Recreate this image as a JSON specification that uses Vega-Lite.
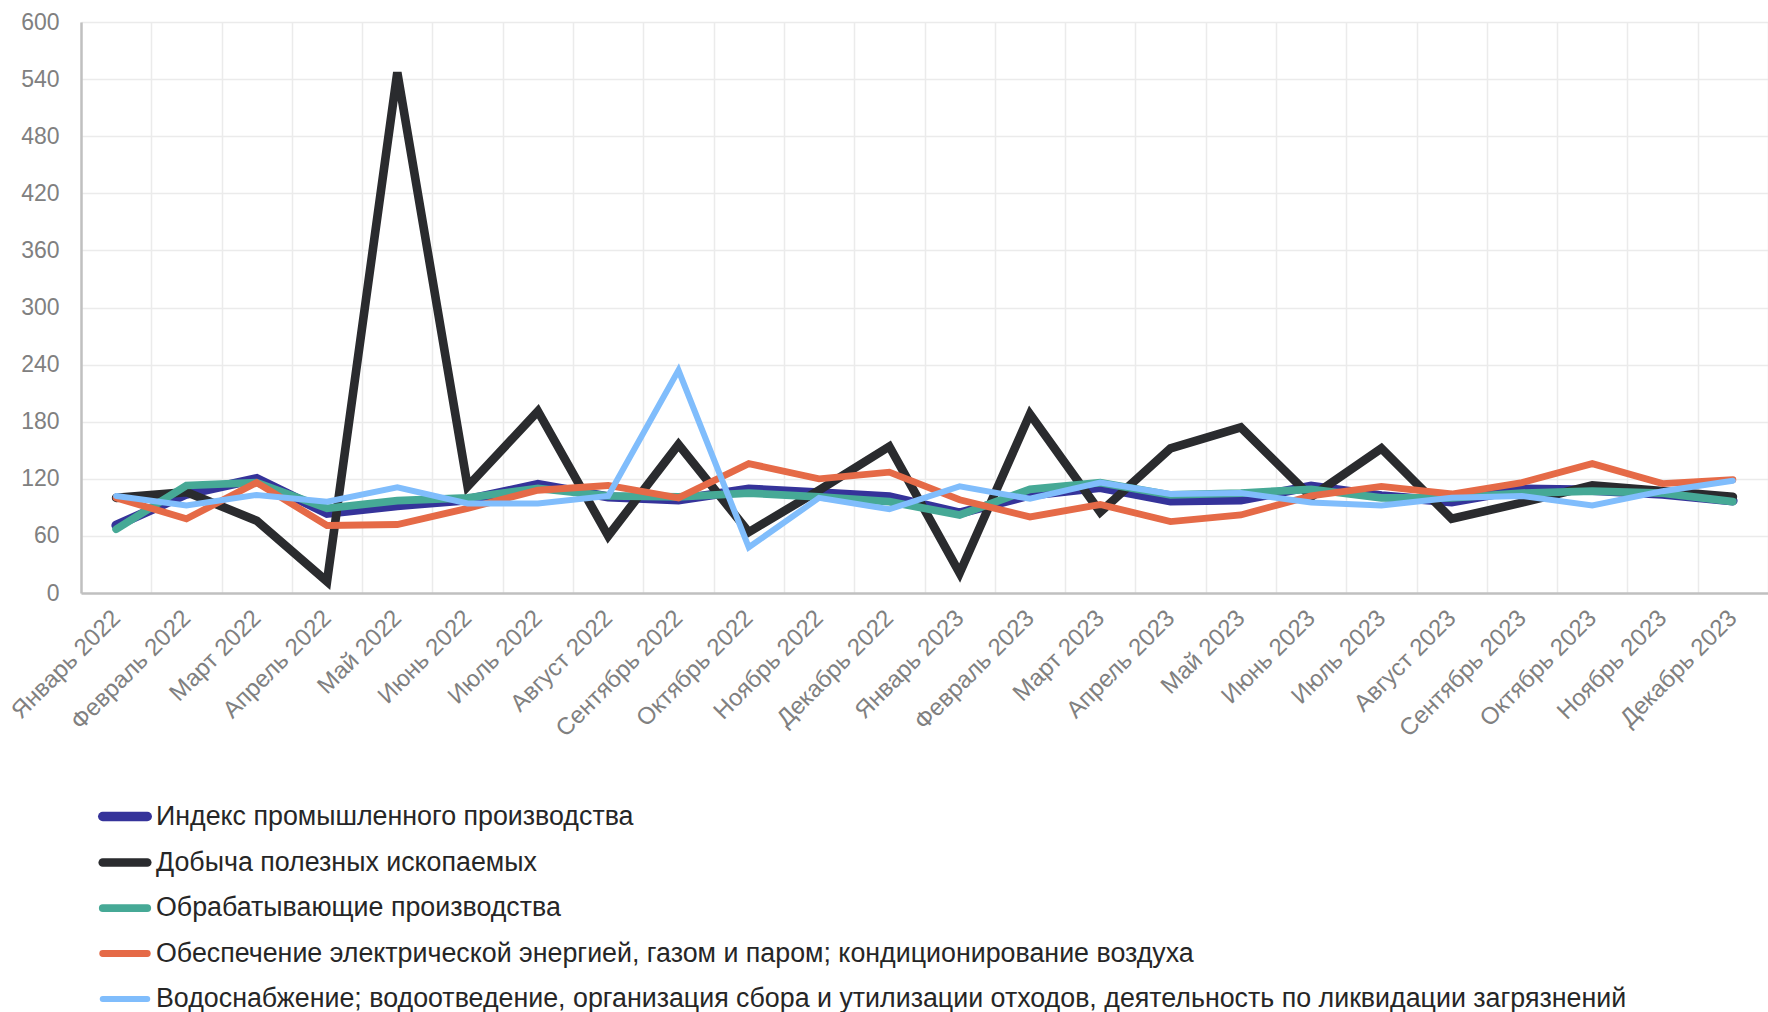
{
  "$schema": "https://vega.github.io/schema/vega-lite/v6.json",
  "width": 1687,
  "height": 571,
  "autosize": {"type": "none"},
  "padding": {"left": 81, "top": 22, "right": 0, "bottom": 419},
  "background": "white",
  "config": {"view": {"stroke": null}, "font": "Liberation Sans"},
  "datasets": {
    "rows": [
      {"m": "Январь 2022", "s": "Индекс промышленного производства", "v": 71},
      {"m": "Февраль 2022", "s": "Индекс промышленного производства", "v": 104},
      {"m": "Март 2022", "s": "Индекс промышленного производства", "v": 120},
      {"m": "Апрель 2022", "s": "Индекс промышленного производства", "v": 84},
      {"m": "Май 2022", "s": "Индекс промышленного производства", "v": 92},
      {"m": "Июнь 2022", "s": "Индекс промышленного производства", "v": 98},
      {"m": "Июль 2022", "s": "Индекс промышленного производства", "v": 114},
      {"m": "Август 2022", "s": "Индекс промышленного производства", "v": 101},
      {"m": "Сентябрь 2022", "s": "Индекс промышленного производства", "v": 98},
      {"m": "Октябрь 2022", "s": "Индекс промышленного производства", "v": 109},
      {"m": "Ноябрь 2022", "s": "Индекс промышленного производства", "v": 105},
      {"m": "Декабрь 2022", "s": "Индекс промышленного производства", "v": 101},
      {"m": "Январь 2023", "s": "Индекс промышленного производства", "v": 84},
      {"m": "Февраль 2023", "s": "Индекс промышленного производства", "v": 103},
      {"m": "Март 2023", "s": "Индекс промышленного производства", "v": 111},
      {"m": "Апрель 2023", "s": "Индекс промышленного производства", "v": 97},
      {"m": "Май 2023", "s": "Индекс промышленного производства", "v": 98},
      {"m": "Июнь 2023", "s": "Индекс промышленного производства", "v": 112},
      {"m": "Июль 2023", "s": "Индекс промышленного производства", "v": 102},
      {"m": "Август 2023", "s": "Индекс промышленного производства", "v": 96},
      {"m": "Сентябрь 2023", "s": "Индекс промышленного производства", "v": 109},
      {"m": "Октябрь 2023", "s": "Индекс промышленного производства", "v": 108},
      {"m": "Ноябрь 2023", "s": "Индекс промышленного производства", "v": 104},
      {"m": "Декабрь 2023", "s": "Индекс промышленного производства", "v": 97},

      {"m": "Январь 2022", "s": "Добыча полезных ископаемых", "v": 100},
      {"m": "Февраль 2022", "s": "Добыча полезных ископаемых", "v": 106},
      {"m": "Март 2022", "s": "Добыча полезных ископаемых", "v": 76},
      {"m": "Апрель 2022", "s": "Добыча полезных ископаемых", "v": 12},
      {"m": "Май 2022", "s": "Добыча полезных ископаемых", "v": 547},
      {"m": "Июнь 2022", "s": "Добыча полезных ископаемых", "v": 112},
      {"m": "Июль 2022", "s": "Добыча полезных ископаемых", "v": 191},
      {"m": "Август 2022", "s": "Добыча полезных ископаемых", "v": 60},
      {"m": "Сентябрь 2022", "s": "Добыча полезных ископаемых", "v": 156},
      {"m": "Октябрь 2022", "s": "Добыча полезных ископаемых", "v": 64},
      {"m": "Ноябрь 2022", "s": "Добыча полезных ископаемых", "v": 108},
      {"m": "Декабрь 2022", "s": "Добыча полезных ископаемых", "v": 154},
      {"m": "Январь 2023", "s": "Добыча полезных ископаемых", "v": 21},
      {"m": "Февраль 2023", "s": "Добыча полезных ископаемых", "v": 188},
      {"m": "Март 2023", "s": "Добыча полезных ископаемых", "v": 85},
      {"m": "Апрель 2023", "s": "Добыча полезных ископаемых", "v": 152},
      {"m": "Май 2023", "s": "Добыча полезных ископаемых", "v": 174},
      {"m": "Июнь 2023", "s": "Добыча полезных ископаемых", "v": 101},
      {"m": "Июль 2023", "s": "Добыча полезных ископаемых", "v": 152},
      {"m": "Август 2023", "s": "Добыча полезных ископаемых", "v": 78},
      {"m": "Сентябрь 2023", "s": "Добыча полезных ископаемых", "v": 95},
      {"m": "Октябрь 2023", "s": "Добыча полезных ископаемых", "v": 113},
      {"m": "Ноябрь 2023", "s": "Добыча полезных ископаемых", "v": 107},
      {"m": "Декабрь 2023", "s": "Добыча полезных ископаемых", "v": 101},

      {"m": "Январь 2022", "s": "Обрабатывающие производства", "v": 67},
      {"m": "Февраль 2022", "s": "Обрабатывающие производства", "v": 113},
      {"m": "Март 2022", "s": "Обрабатывающие производства", "v": 116},
      {"m": "Апрель 2022", "s": "Обрабатывающие производства", "v": 89},
      {"m": "Май 2022", "s": "Обрабатывающие производства", "v": 97},
      {"m": "Июнь 2022", "s": "Обрабатывающие производства", "v": 100},
      {"m": "Июль 2022", "s": "Обрабатывающие производства", "v": 110},
      {"m": "Август 2022", "s": "Обрабатывающие производства", "v": 102},
      {"m": "Сентябрь 2022", "s": "Обрабатывающие производства", "v": 101},
      {"m": "Октябрь 2022", "s": "Обрабатывающие производства", "v": 105},
      {"m": "Ноябрь 2022", "s": "Обрабатывающие производства", "v": 101},
      {"m": "Декабрь 2022", "s": "Обрабатывающие производства", "v": 96},
      {"m": "Январь 2023", "s": "Обрабатывающие производства", "v": 82},
      {"m": "Февраль 2023", "s": "Обрабатывающие производства", "v": 109},
      {"m": "Март 2023", "s": "Обрабатывающие производства", "v": 116},
      {"m": "Апрель 2023", "s": "Обрабатывающие производства", "v": 103},
      {"m": "Май 2023", "s": "Обрабатывающие производства", "v": 105},
      {"m": "Июнь 2023", "s": "Обрабатывающие производства", "v": 109},
      {"m": "Июль 2023", "s": "Обрабатывающие производства", "v": 100},
      {"m": "Август 2023", "s": "Обрабатывающие производства", "v": 100},
      {"m": "Сентябрь 2023", "s": "Обрабатывающие производства", "v": 105},
      {"m": "Октябрь 2023", "s": "Обрабатывающие производства", "v": 107},
      {"m": "Ноябрь 2023", "s": "Обрабатывающие производства", "v": 105},
      {"m": "Декабрь 2023", "s": "Обрабатывающие производства", "v": 96},

      {"m": "Январь 2022", "s": "Обеспечение электрической энергией, газом и паром; кондиционирование воздуха", "v": 100},
      {"m": "Февраль 2022", "s": "Обеспечение электрической энергией, газом и паром; кондиционирование воздуха", "v": 78},
      {"m": "Март 2022", "s": "Обеспечение электрической энергией, газом и паром; кондиционирование воздуха", "v": 116},
      {"m": "Апрель 2022", "s": "Обеспечение электрической энергией, газом и паром; кондиционирование воздуха", "v": 71},
      {"m": "Май 2022", "s": "Обеспечение электрической энергией, газом и паром; кондиционирование воздуха", "v": 72},
      {"m": "Июнь 2022", "s": "Обеспечение электрической энергией, газом и паром; кондиционирование воздуха", "v": 89},
      {"m": "Июль 2022", "s": "Обеспечение электрической энергией, газом и паром; кондиционирование воздуха", "v": 108},
      {"m": "Август 2022", "s": "Обеспечение электрической энергией, газом и паром; кондиционирование воздуха", "v": 113},
      {"m": "Сентябрь 2022", "s": "Обеспечение электрической энергией, газом и паром; кондиционирование воздуха", "v": 100},
      {"m": "Октябрь 2022", "s": "Обеспечение электрической энергией, газом и паром; кондиционирование воздуха", "v": 136},
      {"m": "Ноябрь 2022", "s": "Обеспечение электрической энергией, газом и паром; кондиционирование воздуха", "v": 120},
      {"m": "Декабрь 2022", "s": "Обеспечение электрической энергией, газом и паром; кондиционирование воздуха", "v": 127},
      {"m": "Январь 2023", "s": "Обеспечение электрической энергией, газом и паром; кондиционирование воздуха", "v": 98},
      {"m": "Февраль 2023", "s": "Обеспечение электрической энергией, газом и паром; кондиционирование воздуха", "v": 80},
      {"m": "Март 2023", "s": "Обеспечение электрической энергией, газом и паром; кондиционирование воздуха", "v": 93},
      {"m": "Апрель 2023", "s": "Обеспечение электрической энергией, газом и паром; кондиционирование воздуха", "v": 75},
      {"m": "Май 2023", "s": "Обеспечение электрической энергией, газом и паром; кондиционирование воздуха", "v": 82},
      {"m": "Июнь 2023", "s": "Обеспечение электрической энергией, газом и паром; кондиционирование воздуха", "v": 102},
      {"m": "Июль 2023", "s": "Обеспечение электрической энергией, газом и паром; кондиционирование воздуха", "v": 112},
      {"m": "Август 2023", "s": "Обеспечение электрической энергией, газом и паром; кондиционирование воздуха", "v": 104},
      {"m": "Сентябрь 2023", "s": "Обеспечение электрической энергией, газом и паром; кондиционирование воздуха", "v": 116},
      {"m": "Октябрь 2023", "s": "Обеспечение электрической энергией, газом и паром; кондиционирование воздуха", "v": 136},
      {"m": "Ноябрь 2023", "s": "Обеспечение электрической энергией, газом и паром; кондиционирование воздуха", "v": 115},
      {"m": "Декабрь 2023", "s": "Обеспечение электрической энергией, газом и паром; кондиционирование воздуха", "v": 119},

      {"m": "Январь 2022", "s": "Водоснабжение; водоотведение, организация сбора и утилизации отходов, деятельность по ликвидации загрязнений", "v": 102},
      {"m": "Февраль 2022", "s": "Водоснабжение; водоотведение, организация сбора и утилизации отходов, деятельность по ликвидации загрязнений", "v": 92},
      {"m": "Март 2022", "s": "Водоснабжение; водоотведение, организация сбора и утилизации отходов, деятельность по ликвидации загрязнений", "v": 103},
      {"m": "Апрель 2022", "s": "Водоснабжение; водоотведение, организация сбора и утилизации отходов, деятельность по ликвидации загрязнений", "v": 96},
      {"m": "Май 2022", "s": "Водоснабжение; водоотведение, организация сбора и утилизации отходов, деятельность по ликвидации загрязнений", "v": 111},
      {"m": "Июнь 2022", "s": "Водоснабжение; водоотведение, организация сбора и утилизации отходов, деятельность по ликвидации загрязнений", "v": 94},
      {"m": "Июль 2022", "s": "Водоснабжение; водоотведение, организация сбора и утилизации отходов, деятельность по ликвидации загрязнений", "v": 94},
      {"m": "Август 2022", "s": "Водоснабжение; водоотведение, организация сбора и утилизации отходов, деятельность по ликвидации загрязнений", "v": 102},
      {"m": "Сентябрь 2022", "s": "Водоснабжение; водоотведение, организация сбора и утилизации отходов, деятельность по ликвидации загрязнений", "v": 234},
      {"m": "Октябрь 2022", "s": "Водоснабжение; водоотведение, организация сбора и утилизации отходов, деятельность по ликвидации загрязнений", "v": 48},
      {"m": "Ноябрь 2022", "s": "Водоснабжение; водоотведение, организация сбора и утилизации отходов, деятельность по ликвидации загрязнений", "v": 100},
      {"m": "Декабрь 2022", "s": "Водоснабжение; водоотведение, организация сбора и утилизации отходов, деятельность по ликвидации загрязнений", "v": 88},
      {"m": "Январь 2023", "s": "Водоснабжение; водоотведение, организация сбора и утилизации отходов, деятельность по ликвидации загрязнений", "v": 112},
      {"m": "Февраль 2023", "s": "Водоснабжение; водоотведение, организация сбора и утилизации отходов, деятельность по ликвидации загрязнений", "v": 99},
      {"m": "Март 2023", "s": "Водоснабжение; водоотведение, организация сбора и утилизации отходов, деятельность по ликвидации загрязнений", "v": 116},
      {"m": "Апрель 2023", "s": "Водоснабжение; водоотведение, организация сбора и утилизации отходов, деятельность по ликвидации загрязнений", "v": 104},
      {"m": "Май 2023", "s": "Водоснабжение; водоотведение, организация сбора и утилизации отходов, деятельность по ликвидации загрязнений", "v": 105},
      {"m": "Июнь 2023", "s": "Водоснабжение; водоотведение, организация сбора и утилизации отходов, деятельность по ликвидации загрязнений", "v": 95},
      {"m": "Июль 2023", "s": "Водоснабжение; водоотведение, организация сбора и утилизации отходов, деятельность по ликвидации загрязнений", "v": 92},
      {"m": "Август 2023", "s": "Водоснабжение; водоотведение, организация сбора и утилизации отходов, деятельность по ликвидации загрязнений", "v": 100},
      {"m": "Сентябрь 2023", "s": "Водоснабжение; водоотведение, организация сбора и утилизации отходов, деятельность по ликвидации загрязнений", "v": 102},
      {"m": "Октябрь 2023", "s": "Водоснабжение; водоотведение, организация сбора и утилизации отходов, деятельность по ликвидации загрязнений", "v": 92},
      {"m": "Ноябрь 2023", "s": "Водоснабжение; водоотведение, организация сбора и утилизации отходов, деятельность по ликвидации загрязнений", "v": 107},
      {"m": "Декабрь 2023", "s": "Водоснабжение; водоотведение, организация сбора и утилизации отходов, деятельность по ликвидации загрязнений", "v": 118}
    ]
  },
  "data": {"name": "rows"},
  "mark": {"type": "line", "strokeCap": "round", "clip": false},
  "encoding": {
    "x": {
      "field": "m",
      "type": "ordinal",
      "sort": null,
      "bandPosition": 0.5,
      "scale": {"type": "band", "paddingInner": 0, "paddingOuter": 0},
      "axis": {
        "title": null,
        "labelAngle": -45,
        "labelAlign": "right",
        "labelBaseline": "middle",
        "labelFontSize": 24,
        "labelColor": "#808080",
        "labelPadding": 21,
        "labelOverlap": false,
        "ticks": false,
        "tickBand": "extent",
        "grid": true,
        "gridColor": "#ebebeb",
        "gridWidth": 1.5,
        "domainColor": "#c0c0c0",
        "domainWidth": 2.5
      }
    },
    "y": {
      "field": "v",
      "type": "quantitative",
      "scale": {"domain": [0, 600], "nice": false},
      "axis": {
        "title": null,
        "values": [0, 60, 120, 180, 240, 300, 360, 420, 480, 540, 600],
        "labelFontSize": 23,
        "labelColor": "#808080",
        "labelPadding": 22,
        "ticks": false,
        "grid": true,
        "gridColor": "#ebebeb",
        "gridWidth": 1.5,
        "domainColor": "#c0c0c0",
        "domainWidth": 2.5
      }
    },
    "color": {
      "field": "s",
      "type": "nominal",
      "scale": {
        "domain": [
          "Индекс промышленного производства",
          "Добыча полезных ископаемых",
          "Обрабатывающие производства",
          "Обеспечение электрической энергией, газом и паром; кондиционирование воздуха",
          "Водоснабжение; водоотведение, организация сбора и утилизации отходов, деятельность по ликвидации загрязнений"
        ],
        "range": ["#35339a", "#2a2b2e", "#46a996", "#e56a47", "#80bdfc"]
      },
      "legend": {
        "orient": "none",
        "legendX": 17,
        "legendY": 767.5,
        "direction": "vertical",
        "title": null,
        "symbolType": "stroke",
        "symbolSize": 1980,
        "labelFontSize": 26.8,
        "labelColor": "#262626",
        "labelLimit": 2000,
        "labelOffset": 4,
        "gridAlign": "all",
        "rowPadding": 0,
        "padding": 0,
        "encode": {"symbols": {"update": {"strokeCap": {"value": "round"}}}}
      }
    },
    "strokeWidth": {
      "field": "s",
      "type": "nominal",
      "scale": {
        "domain": [
          "Индекс промышленного производства",
          "Добыча полезных ископаемых",
          "Обрабатывающие производства",
          "Обеспечение электрической энергией, газом и паром; кондиционирование воздуха",
          "Водоснабжение; водоотведение, организация сбора и утилизации отходов, деятельность по ликвидации загрязнений"
        ],
        "range": [9.5, 6, 6, 6, 6]
      },
      "legend": {
        "orient": "none",
        "legendX": 17,
        "legendY": 767.5,
        "direction": "vertical",
        "title": null,
        "symbolType": "stroke",
        "symbolSize": 1980,
        "labelFontSize": 26.8,
        "labelColor": "#262626",
        "labelLimit": 2000,
        "labelOffset": 4,
        "gridAlign": "all",
        "rowPadding": 0,
        "padding": 0,
        "encode": {"symbols": {"update": {"strokeCap": {"value": "round"}}}}
      }
    }
  }
}
